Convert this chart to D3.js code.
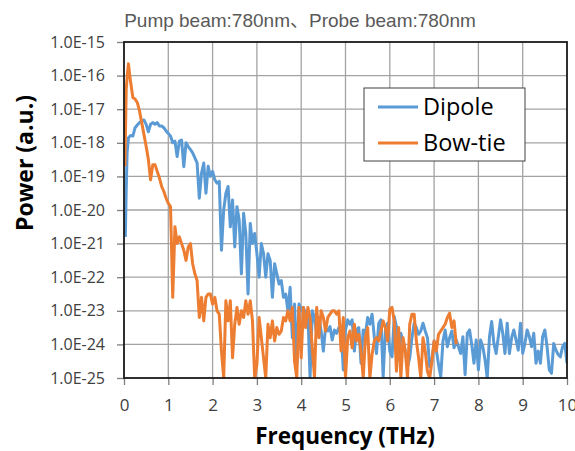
<!DOCTYPE html>
<html>
<head>
<meta charset="utf-8">
<script src="https://cdn.jsdelivr.net/npm/d3@7"></script>
<style>
  body { margin: 0; background: #fff; }
  text { font-family: "Open Sans", "Noto Sans", sans-serif; }
</style>
</head>
<body>
<div id="chart"></div>
<script>

// Spectra, stored as log10(power)

const dipoleFreq = [0.03, 0.05, 0.07,
  0.1, 0.15, 0.2, 0.25, 0.3, 0.35, 0.4, 0.45, 0.5, 0.55,
  0.6, 0.65, 0.7, 0.75, 0.8, 0.85, 0.9, 0.95, 1.0, 1.05,
  1.1, 1.15, 1.2, 1.25, 1.3, 1.35, 1.4, 1.45, 1.5, 1.55,
  1.6, 1.65, 1.7, 1.75, 1.8, 1.85, 1.9, 1.95, 2.0, 2.05,
  2.1, 2.15, 2.2, 2.25, 2.3, 2.35, 2.4, 2.45, 2.5, 2.55,
  2.6, 2.65, 2.7, 2.75, 2.8, 2.85, 2.9, 2.95, 3.0, 3.05,
  3.1, 3.15, 3.2, 3.25, 3.3, 3.35, 3.4, 3.45, 3.5, 3.55,
  3.6, 3.65, 3.7, 3.75, 3.8, 3.85, 3.9, 3.95, 4.0, 4.05,
  4.1, 4.15, 4.2, 4.25, 4.3, 4.35, 4.4, 4.45, 4.5, 4.55,
  4.6, 4.65, 4.7, 4.75, 4.8, 4.85, 4.9, 4.95, 5.0, 5.05,
  5.1, 5.15, 5.2, 5.25, 5.3, 5.35, 5.4, 5.45, 5.5, 5.55,
  5.6, 5.65, 5.7, 5.75, 5.8, 5.85, 5.9, 5.95, 6.0, 6.05,
  6.1, 6.15, 6.2, 6.25, 6.3, 6.35, 6.4, 6.45, 6.5, 6.55,
  6.6, 6.65, 6.7, 6.75, 6.8, 6.85, 6.9, 6.95, 7.0, 7.05,
  7.1, 7.15, 7.2, 7.25, 7.3, 7.35, 7.4, 7.45, 7.5, 7.55,
  7.6, 7.65, 7.7, 7.75, 7.8, 7.85, 7.9, 7.95, 8.0, 8.05,
  8.1, 8.15, 8.2, 8.25, 8.3, 8.35, 8.4, 8.45, 8.5, 8.55,
  8.6, 8.65, 8.7, 8.75, 8.8, 8.85, 8.9, 8.95, 9.0, 9.05,
  9.1, 9.15, 9.2, 9.25, 9.3, 9.35, 9.4, 9.45, 9.5, 9.55,
  9.6, 9.65, 9.7, 9.75, 9.8, 9.85, 9.9, 9.95, 10.0];

const dipoleLog = [-20.8, -19.4, -18.3,
  -17.85, -17.78, -17.8, -17.55, -17.47, -17.4, -17.35, -17.32, -17.45, -17.67,
  -17.45, -17.4, -17.45, -17.4, -17.5, -17.5, -17.55, -17.65, -17.72, -17.8,
  -18.0, -17.95, -18.41, -17.95, -17.92, -18.71, -18.0, -18.12, -18.2, -18.3,
  -18.45, -18.6, -19.65, -18.9, -18.6, -19.5, -18.7, -19.0, -18.85, -19.1,
  -19.2, -19.15, -21.2, -20.0, -19.5, -19.3, -20.5, -19.7, -21.1, -19.9,
  -20.3, -21.9, -20.1, -20.7, -22.5, -20.4, -21.0, -20.7, -21.3, -22.0,
  -21.0, -21.3, -22.0, -21.3, -21.5, -22.6, -21.6, -21.9, -22.2, -22.1,
  -22.6, -22.5, -23.0, -22.3, -23.8, -22.8, -24.6, -22.8, -23.0, -22.9,
  -23.1, -23.0, -25.0, -23.0, -23.2, -23.7, -23.2, -23.6, -24.2, -23.5,
  -23.6, -23.47, -23.87, -23.57, -23.67, -23.5, -23.47, -24.76, -23.57, -23.27,
  -23.4, -23.27, -24.2, -23.57, -23.5, -24.56, -23.57, -23.7, -23.2, -23.4,
  -23.1, -23.77, -24.27, -23.37, -23.27, -24.96, -23.57, -23.37, -24.2, -24.37,
  -23.17, -23.47, -24.46, -23.67, -23.9, -24.2, -24.66, -24.4, -23.8, -23.37,
  -23.5, -23.7, -23.6, -23.37, -23.6, -23.8, -24.66, -24.5, -23.9, -24.17,
  -24.6, -24.96, -23.9, -23.57, -24.07, -23.8, -23.6, -24.1, -23.87, -24.07,
  -24.27, -23.77, -24.9, -23.67, -23.57, -24.0, -24.56, -23.87, -24.76, -23.87,
  -24.07, -24.46, -25.0, -23.77, -23.32, -23.97, -24.27, -23.77, -23.27, -23.67,
  -24.27, -23.37, -24.27, -23.8, -23.57, -23.87, -24.17, -23.37, -24.27, -23.97,
  -23.57, -23.77, -24.07, -23.67, -24.56, -24.2, -24.56, -23.77, -23.57, -24.07,
  -24.76, -24.86, -23.97, -24.17, -24.3, -24.37, -24.07, -23.97, -24.56];

const bowtieFreq = [0.02, 0.05, 0.08,
  0.1, 0.15, 0.2, 0.25, 0.3, 0.35, 0.4, 0.45, 0.5, 0.55,
  0.6, 0.65, 0.7, 0.75, 0.8, 0.85, 0.9, 0.95, 1.0, 1.05,
  1.1, 1.15, 1.2, 1.25, 1.3, 1.35, 1.4, 1.45, 1.5, 1.55,
  1.6, 1.65, 1.7, 1.75, 1.8, 1.85, 1.9, 1.95, 2.0, 2.05,
  2.1, 2.15, 2.2, 2.25, 2.3, 2.35, 2.4, 2.45, 2.5, 2.55,
  2.6, 2.65, 2.7, 2.75, 2.8, 2.85, 2.9, 2.95, 3.0, 3.05,
  3.1, 3.15, 3.2, 3.25, 3.3, 3.35, 3.4, 3.45, 3.5, 3.55,
  3.6, 3.65, 3.7, 3.75, 3.8, 3.85, 3.9, 3.95, 4.0, 4.05,
  4.1, 4.15, 4.2, 4.25, 4.3, 4.35, 4.4, 4.45, 4.5, 4.55,
  4.6, 4.65, 4.7, 4.75, 4.8, 4.85, 4.9, 4.95, 5.0, 5.05,
  5.1, 5.15, 5.2, 5.25, 5.3, 5.35, 5.4, 5.45, 5.5, 5.55,
  5.6, 5.65, 5.7, 5.75, 5.8, 5.85, 5.9, 5.95, 6.0, 6.05,
  6.1, 6.15, 6.2, 6.25, 6.3, 6.35, 6.4, 6.45, 6.5, 6.55,
  6.6, 6.65, 6.7, 6.75, 6.8, 6.85, 6.9, 6.95, 7.0, 7.05,
  7.1, 7.15, 7.2, 7.25, 7.3, 7.35, 7.4, 7.45, 7.5];

const bowtieLog = [-18.7, -16.4, -15.9,
  -15.65, -16.2, -16.65, -16.7, -16.8, -17.05, -17.4, -17.75, -18.1, -18.5,
  -19.1, -18.65, -18.65, -18.85, -19.05, -19.3, -19.45, -19.65, -19.8, -19.9,
  -22.6, -20.5, -21.0, -20.8, -21.0, -21.2, -21.5, -21.1, -21.0, -21.6,
  -21.9, -22.1, -23.2, -22.6, -23.3, -22.6, -22.5, -22.5, -22.8, -22.6,
  -23.0, -23.1, -24.2, -25.0, -22.7, -23.3, -22.7, -24.4, -23.4, -22.9,
  -23.4, -23.0, -23.2, -22.7, -23.1, -22.7, -23.3, -25.0, -24.6, -23.2,
  -23.8, -24.4, -25.0, -23.4, -23.8, -23.3, -23.9, -23.5, -23.7, -23.6,
  -23.2, -23.3, -23.0, -23.3, -22.9, -24.5, -25.0, -22.9, -24.4, -22.9,
  -23.5, -22.9, -23.2, -24.1, -25.0, -22.9, -23.8, -23.0, -23.2, -23.6,
  -23.2, -23.1, -23.0, -23.0, -23.1, -23.0, -24.2, -23.2, -25.0, -23.8,
  -23.6, -24.1, -23.4, -23.9, -23.7, -24.2, -25.0, -23.8, -23.5, -25.0,
  -24.3, -23.9, -23.8, -23.9, -23.6, -23.3, -23.5, -23.9, -22.95, -22.9,
  -23.3, -24.8, -23.5, -25.0, -23.8, -24.2, -25.0, -23.4, -23.1, -23.1,
  -23.9, -24.4, -25.0, -23.8, -24.2, -24.8, -25.0, -24.5, -23.9, -24.2,
  -23.7, -23.6, -23.5, -23.4, -23.2, -23.07, -23.5, -23.3, -24.0];

const xTicks = [0, 1, 2, 3, 4, 5, 6, 7, 8, 9, 10];
const yTicks = [1e-25, 1e-24, 1e-23, 1e-22, 1e-21, 1e-20, 1e-19, 1e-18, 1e-17, 1e-16, 1e-15];
const seriesNames = ["Dipole", "Bow-tie"];
const colors = ["#5B9BD5", "#ED7D31"];

const width = 575;
const height = 451;
const margin = { left: 124, right: 8, top: 42, bottom: 73 };

const svg = d3.select("#chart")
  .append("svg")
  .attr("width", width)
  .attr("height", height);

const xScale = d3.scaleLinear()
  .domain([0, 10])
  .range([margin.left, width - margin.right]);

const yScale = d3.scaleLog()
  .domain([1e-25, 1e-15])
  .range([height - margin.bottom, margin.top]);

// grid
svg.append("g")
  .selectAll("line")
  .data(yTicks.slice(1, -1))
  .enter()
  .append("line")
  .attr("x1", margin.left)
  .attr("x2", width - margin.right)
  .attr("y1", d => yScale(d))
  .attr("y2", d => yScale(d))
  .attr("stroke", "#a3a3a3")
  .attr("stroke-width", 1.3);

svg.append("g")
  .selectAll("line")
  .data(xTicks.slice(1, -1))
  .enter()
  .append("line")
  .attr("x1", d => xScale(d))
  .attr("x2", d => xScale(d))
  .attr("y1", margin.top)
  .attr("y2", height - margin.bottom)
  .attr("stroke", "#a3a3a3")
  .attr("stroke-width", 1.3);

// axes
const yAxis = svg.append("g")
  .attr("transform", `translate(${margin.left},0)`)
  .call(d3.axisLeft(yScale)
    .tickValues(yTicks)
    .tickSize(7)
    .tickPadding(12)
    .tickFormat(d => "1.0E" + Math.round(Math.log10(d))));
yAxis.select(".domain").remove();
yAxis.selectAll("line").attr("stroke", "#7f7f7f").attr("stroke-width", 1.3);
yAxis.selectAll("text")
  .attr("font-size", "16px")
  .attr("fill", "#404040")
  .style("font-family", "\"Open Sans\", sans-serif");

const xAxis = svg.append("g")
  .attr("transform", `translate(0,${height - margin.bottom})`)
  .call(d3.axisBottom(xScale)
    .tickValues(xTicks)
    .tickSize(7)
    .tickPadding(14)
    .tickFormat(d3.format("d")));
xAxis.select(".domain").remove();
xAxis.selectAll("line").attr("stroke", "#7f7f7f").attr("stroke-width", 1.3);
xAxis.selectAll("text")
  .attr("font-size", "17px")
  .attr("fill", "#404040")
  .style("font-family", "\"Open Sans\", sans-serif");

// lines
svg.append("clipPath")
  .attr("id", "plotclip")
  .append("rect")
  .attr("x", margin.left)
  .attr("y", margin.top)
  .attr("width", width - margin.left - margin.right)
  .attr("height", height - margin.top - margin.bottom + 1);

const line = d3.line()
  .x(d => xScale(d.f))
  .y(d => yScale(d.p));

const dipoleData = dipoleFreq.map((f, i) => ({ f: f, p: Math.pow(10, dipoleLog[i]) }));
const bowtieData = bowtieFreq.map((f, i) => ({ f: f, p: Math.pow(10, bowtieLog[i]) }));

[dipoleData, bowtieData].forEach((data, i) => {
  svg.append("path")
    .datum(data)
    .attr("clip-path", "url(#plotclip)")
    .attr("fill", "none")
    .attr("stroke", colors[i])
    .attr("stroke-width", 3)
    .attr("stroke-linejoin", "round")
    .attr("d", line);
});

// plot frame
svg.append("rect")
  .attr("x", margin.left)
  .attr("y", margin.top)
  .attr("width", width - margin.left - margin.right)
  .attr("height", height - margin.top - margin.bottom)
  .attr("fill", "none")
  .attr("stroke", "#1a1a1a")
  .attr("stroke-width", 1.8);

// titles
svg.append("text")
  .attr("x", 300)
  .attr("y", 27)
  .attr("text-anchor", "middle")
  .attr("font-size", "19px")
  .attr("fill", "#595959")
  .style("font-family", "\"Liberation Sans\", Arial, \"Noto Sans CJK JP\", sans-serif")
  .text("Pump beam:780nm、Probe beam:780nm");

svg.append("text")
  .attr("x", 345)
  .attr("y", 444)
  .attr("text-anchor", "middle")
  .attr("font-size", "22.5px")
  .attr("font-weight", "bold")
  .attr("fill", "#000")
  .text("Frequency (THz)");

svg.append("text")
  .attr("transform", "translate(33,163) rotate(-90)")
  .attr("text-anchor", "middle")
  .attr("font-size", "23px")
  .attr("font-weight", "bold")
  .attr("fill", "#000")
  .text("Power (a.u.)");

// legend
const legend = svg.append("g");
legend.append("rect")
  .attr("x", 364)
  .attr("y", 88)
  .attr("width", 161)
  .attr("height", 73)
  .attr("fill", "#fff")
  .attr("stroke", "#404040")
  .attr("stroke-width", 1);

seriesNames.forEach((name, i) => {
  const ly = 107 + i * 36;
  legend.append("line")
    .attr("x1", 378)
    .attr("x2", 418)
    .attr("y1", ly)
    .attr("y2", ly)
    .attr("stroke", colors[i])
    .attr("stroke-width", 3);
  legend.append("text")
    .attr("x", 423)
    .attr("y", ly + 8)
    .attr("font-size", "23.5px")
    .attr("fill", "#000")
    .text(name);
});

</script>
</body>
</html>
